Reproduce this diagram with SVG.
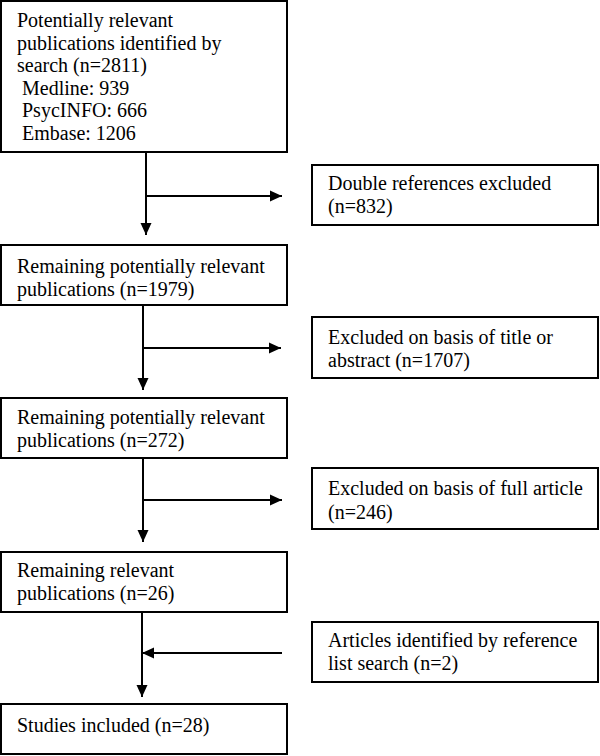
<svg xmlns="http://www.w3.org/2000/svg" width="600" height="756" viewBox="0 0 600 756">
<style>
.box{fill:#fff;stroke:#000;stroke-width:2}
.t{font-family:"Liberation Serif","Times New Roman",serif;font-size:20px;fill:#000}
.c{fill:none;stroke:#000;stroke-width:2}
</style>
<defs>
<marker id="ah" markerUnits="userSpaceOnUse" markerWidth="12" markerHeight="12" refX="12" refY="6" orient="auto">
<path d="M0,0.5 L12,6 L0,11.5 z" fill="#000"/>
</marker>
</defs>
<rect width="600" height="756" fill="#fff"/>
<g id="n1">
<rect class="box" x="1" y="1" width="286" height="151"/>
<text class="t" x="17" y="27">Potentially relevant</text>
<text class="t" x="17" y="49.5">publications identified by</text>
<text class="t" x="17" y="72">search (n=2811)</text>
<text class="t" x="22" y="94.5">Medline: 939</text>
<text class="t" x="22" y="117">PsycINFO: 666</text>
<text class="t" x="22" y="139.5">Embase: 1206</text>
</g>
<g id="n2">
<rect class="box" x="312" y="165" width="286" height="60"/>
<text class="t" x="328" y="190">Double references excluded</text>
<text class="t" x="328" y="213">(n=832)</text>
</g>
<g id="n3">
<rect class="box" x="1" y="245" width="286" height="60"/>
<text class="t" x="17" y="273">Remaining potentially relevant</text>
<text class="t" x="17" y="296">publications (n=1979)</text>
</g>
<g id="n4">
<rect class="box" x="312" y="317" width="286" height="61"/>
<text class="t" x="328" y="343.5">Excluded on basis of title or</text>
<text class="t" x="328" y="367">abstract (n=1707)</text>
</g>
<g id="n5">
<rect class="box" x="1" y="398" width="286" height="60"/>
<text class="t" x="17" y="424">Remaining potentially relevant</text>
<text class="t" x="17" y="447">publications (n=272)</text>
</g>
<g id="n6">
<rect class="box" x="312" y="468" width="286" height="61"/>
<text class="t" x="328" y="495">Excluded on basis of full article</text>
<text class="t" x="328" y="519">(n=246)</text>
</g>
<g id="n7">
<rect class="box" x="1" y="552" width="286" height="60"/>
<text class="t" x="17" y="577">Remaining relevant</text>
<text class="t" x="17" y="600">publications (n=26)</text>
</g>
<g id="n8">
<rect class="box" x="312" y="622" width="286" height="60"/>
<text class="t" x="328" y="647">Articles identified by reference</text>
<text class="t" x="328" y="670">list search (n=2)</text>
</g>
<g id="n9">
<rect class="box" x="1" y="704" width="286" height="50"/>
<text class="t" x="17" y="732">Studies included (n=28)</text>
</g>
<g id="connectors">
<line class="c" x1="146" y1="152" x2="146" y2="235" marker-end="url(#ah)"/>
<line class="c" x1="146" y1="196" x2="282" y2="196" marker-end="url(#ah)"/>
<line class="c" x1="143" y1="305" x2="143" y2="390" marker-end="url(#ah)"/>
<line class="c" x1="143" y1="348" x2="281" y2="348" marker-end="url(#ah)"/>
<line class="c" x1="143" y1="458" x2="143" y2="542" marker-end="url(#ah)"/>
<line class="c" x1="143" y1="500" x2="282" y2="500" marker-end="url(#ah)"/>
<line class="c" x1="142" y1="612" x2="142" y2="697" marker-end="url(#ah)"/>
<line class="c" x1="282" y1="653" x2="142" y2="653" marker-end="url(#ah)"/>
</g>
</svg>
